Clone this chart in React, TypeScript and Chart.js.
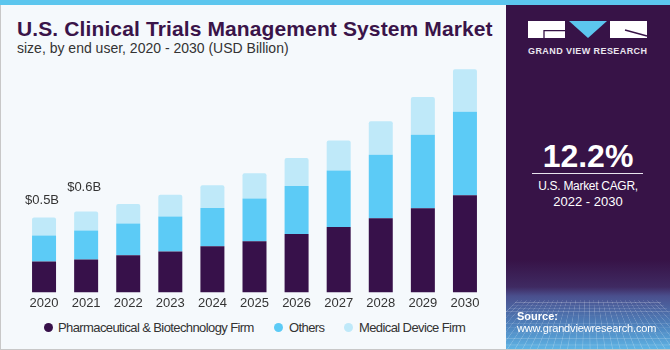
import React, { useEffect, useRef } from "react";
import { Chart, registerables } from "chart.js";

Chart.register(...registerables);

const years = ["2020", "2021", "2022", "2023", "2024", "2025", "2026", "2027", "2028", "2029", "2030"];
const pharma = [0.207, 0.22, 0.249, 0.273, 0.309, 0.342, 0.391, 0.437, 0.495, 0.562, 0.649];
const others = [0.173, 0.193, 0.211, 0.235, 0.255, 0.285, 0.32, 0.378, 0.425, 0.491, 0.558];
const medical = [0.12, 0.127, 0.131, 0.145, 0.153, 0.169, 0.187, 0.2, 0.224, 0.253, 0.284];
const totalLabels = ["$0.5B", "$0.6B", "", "", "", "", "", "", "", "", ""];
const seriesNames = ["Pharmaceutical & Biotechnology Firm", "Others", "Medical Device Firm"];
const seriesColors = ["#37114a", "#5ccbf6", "#bfe9f9"];

const FONT = '"Liberation Sans", Arial, sans-serif';

const totalLabelPlugin = {
  id: "totalLabels",
  afterDatasetsDraw(chart: any, _args: any, opts: any) {
    const ctx = chart.ctx;
    const last = chart.data.datasets.length - 1;
    const meta = chart.getDatasetMeta(last);
    const offsets: number[] = opts.offsets || [];
    ctx.save();
    ctx.font = `13px ${FONT}`;
    ctx.fillStyle = "#333333";
    ctx.textAlign = "center";
    ctx.textBaseline = "middle";
    totalLabels.forEach((t, i) => {
      if (!t) return;
      const el = meta.data[i];
      ctx.fillText(t, el.x - 2, el.y - (offsets[i] ?? 18));
    });
    ctx.restore();
  },
};

export default function App() {
  const ref = useRef<HTMLCanvasElement | null>(null);

  useEffect(() => {
    document.body.style.margin = "0";
    if (!ref.current) return;
    const chart = new Chart(ref.current, {
      type: "bar",
      data: {
        labels: years,
        datasets: [
          { label: seriesNames[0], data: pharma, backgroundColor: seriesColors[0] },
          { label: seriesNames[1], data: others, backgroundColor: seriesColors[1] },
          {
            label: seriesNames[2],
            data: medical,
            backgroundColor: seriesColors[2],
            borderRadius: { topLeft: 2, topRight: 2, bottomLeft: 0, bottomRight: 0 },
            borderSkipped: "start",
          },
        ],
      },
      options: {
        animation: false,
        responsive: false,
        maintainAspectRatio: false,
        layout: { padding: { left: 22, right: 16, top: 6, bottom: 3 } },
        datasets: { bar: { barPercentage: 0.57, categoryPercentage: 1 } },
        scales: {
          x: {
            stacked: true,
            grid: { display: false, drawTicks: false },
            border: { display: false },
            ticks: { color: "#333333", font: { size: 13, family: FONT }, padding: 3 },
          },
          y: { stacked: true, display: false, min: 0, max: 1.5 },
        },
        plugins: {
          legend: { display: false },
          tooltip: { enabled: false },
          totalLabels: { offsets: [17, 24] },
        } as any,
      },
      plugins: [totalLabelPlugin],
    });
    return () => chart.destroy();
  }, []);

  const abs = (s: React.CSSProperties): React.CSSProperties => ({ position: "absolute", ...s });

  return (
    <div style={abs({ left: 0, top: 0, width: 670, height: 350, background: "#f5f9fc", overflow: "hidden", fontFamily: FONT })}>
      <div style={abs({ left: 0, top: 0, width: 670, height: 5, background: "#5cc6ee" })} />
      <div style={abs({ left: 0, top: 5, width: 1, height: 345, background: "#c8c8c8" })} />
      <div style={abs({ left: 0, top: 349, width: 670, height: 1, background: "#c8c8c8" })} />
      <div style={abs({ left: 17, top: 18, fontSize: 21, lineHeight: "21px", fontWeight: "bold", letterSpacing: "0.12px", color: "#3a1449", whiteSpace: "nowrap" })}>
        U.S. Clinical Trials Management System Market
      </div>
      <div style={abs({ left: 17, top: 41, fontSize: 14, lineHeight: "14px", color: "#333333", whiteSpace: "nowrap" })}>
        size, by end user, 2020 - 2030 (USD Billion)
      </div>
      <canvas ref={ref} width={501} height={255} style={abs({ left: 1, top: 62, width: 501, height: 255 })} />
      {seriesNames.map((n, i) => {
        const dotLeft = [44, 274, 344][i];
        const textLeft = [58, 289, 359][i];
        return (
          <React.Fragment key={n}>
            <div style={abs({ left: dotLeft, top: 323, width: 9, height: 9, borderRadius: "50%", background: seriesColors[i] })} />
            <div style={abs({ left: textLeft, top: 321, fontSize: 13, lineHeight: "13px", letterSpacing: "-0.6px", color: "#333333", whiteSpace: "nowrap" })}>
              {n}
            </div>
          </React.Fragment>
        );
      })}

      {/* right panel */}
      <div style={abs({ left: 506, top: 5, width: 164, height: 344, background: "#371347", overflow: "hidden" })}>
        <div
          style={abs({
            left: 0,
            top: 255,
            width: 164,
            height: 90,
            background: "linear-gradient(to bottom, #371347 0%, #3f2a62 30%, #4a4f8d 40%, #4f86c0 75%, #5fb6e6 100%)",
          })}
        />
        <div style={abs({ left: -60, top: 278, width: 284, height: 70, overflow: "hidden", perspective: "90px" })}>
          <div
            style={abs({
              left: 0,
              top: -40,
              width: 284,
              height: 130,
              transformOrigin: "50% 100%",
              transform: "rotateX(45deg)",
              backgroundImage:
                "repeating-linear-gradient(to right, rgba(255,255,255,0.22) 0 1px, transparent 1px 9px), repeating-linear-gradient(to bottom, rgba(255,255,255,0.22) 0 1px, transparent 1px 9px)",
            })}
          />
        </div>
      </div>
      <svg width={140} height={45} style={abs({ left: 520, top: 15 })}>
        <rect x={8} y={6} width={37} height={17} fill="#ffffff" />
        <polyline points="24,23 24,15.7 45,15.7" fill="none" stroke="#371347" strokeWidth={1.3} />
        <polygon points="49,6 87,6 68,23" fill="#5cc6ee" />
        <rect x={90} y={6} width={37} height={17} fill="#ffffff" />
        <line x1={105} y1={15} x2={127} y2={21} stroke="#371347" strokeWidth={1.3} />
        <text x={8} y={39} textLength={119} lengthAdjust="spacing" fill="#ebe6f0" style={{ font: `bold 9px ${FONT}` }}>
          GRAND VIEW RESEARCH
        </text>
      </svg>
      <div style={abs({ left: 506, top: 140, width: 164, textAlign: "center", fontSize: 32, lineHeight: "32px", fontWeight: "bold", color: "#ffffff" })}>
        12.2%
      </div>
      <div style={abs({ left: 532, top: 172.5, width: 111, height: 1.5, background: "#e8e4ee" })} />
      <div style={abs({ left: 506, top: 180, width: 164, textAlign: "center", fontSize: 12, lineHeight: "12px", letterSpacing: "-0.3px", color: "#ffffff" })}>
        U.S. Market CAGR,
      </div>
      <div style={abs({ left: 506, top: 195, width: 164, textAlign: "center", fontSize: 13, lineHeight: "13px", color: "#ffffff" })}>
        2022 - 2030
      </div>
      <div style={abs({ left: 517, top: 311, fontSize: 11, lineHeight: "11px", fontWeight: "bold", color: "#ffffff" })}>Source:</div>
      <div style={abs({ left: 517, top: 323, fontSize: 11, lineHeight: "11px", letterSpacing: "-0.15px", color: "#ffffff", whiteSpace: "nowrap" })}>
        www.grandviewresearch.com
      </div>
    </div>
  );
}
